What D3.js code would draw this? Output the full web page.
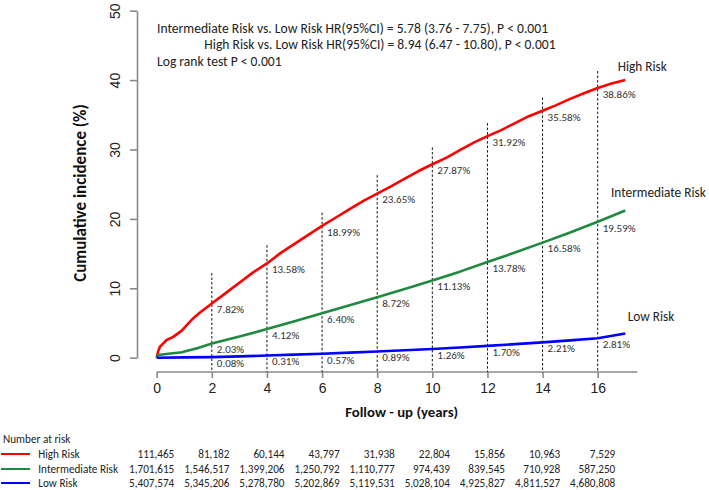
<!DOCTYPE html>
<html><head><meta charset="utf-8">
<script src="https://cdn.jsdelivr.net/npm/d3@7"></script>
<style>
body{margin:0;background:#fff;}
svg{display:block;}
.cal{font-family:Carlito,Lato,"Open Sans",sans-serif;}
</style></head><body>
<svg id="c" width="709" height="490"></svg>
<script>
// ---- data ----
const seriesNames = ["High Risk", "Intermediate Risk", "Low Risk"];
const seriesColors = ["#ff0000", "#1f8a3f", "#0000ff"];
const highX = [0, 0.05, 0.12, 0.24, 0.36, 0.6, 0.91, 1.09, 1.33, 1.57, 2, 2.5, 3, 3.5, 4, 4.5, 5, 5.5, 6, 6.5, 7, 7.5, 8, 8.5, 9, 9.5, 10, 10.5, 11, 11.5, 12, 12.5, 13, 13.5, 14, 14.5, 15, 15.5, 16, 16.5, 17];
const highY = [0, 0.9, 1.6, 2.07, 2.55, 3.0, 3.9, 4.7, 5.7, 6.5, 7.82, 9.3, 10.8, 12.3, 13.58, 15.1, 16.4, 17.7, 18.99, 20.2, 21.4, 22.6, 23.65, 24.7, 25.8, 26.9, 27.87, 28.8, 29.9, 31.0, 31.92, 32.8, 33.8, 34.8, 35.58, 36.4, 37.3, 38.1, 38.86, 39.5, 40.0];
const interX = [0, 0.05, 0.5, 0.91, 1.5, 2, 3, 4, 5, 6, 7, 8, 9, 10, 11, 12, 13, 14, 15, 16, 17];
const interY = [0, 0.4, 0.6, 0.78, 1.4, 2.03, 3.05, 4.12, 5.25, 6.40, 7.55, 8.72, 9.9, 11.13, 12.4, 13.78, 15.15, 16.58, 18.05, 19.59, 21.2];
const lowX = [0, 1, 2, 3, 4, 5, 6, 7, 8, 9, 10, 11, 12, 13, 14, 15, 16, 17];
const lowY = [0, 0.04, 0.08, 0.19, 0.31, 0.44, 0.57, 0.73, 0.89, 1.07, 1.26, 1.47, 1.70, 1.95, 2.21, 2.5, 2.81, 3.5];
const markYears = [2, 4, 6, 8, 10, 12, 14, 16];
const markTops = [12.2, 16.2, 20.9, 26.3, 30.3, 33.8, 37.5, 41.3];
const highPct = ["7.82%", "13.58%", "18.99%", "23.65%", "27.87%", "31.92%", "35.58%", "38.86%"];
const interPct = ["2.03%", "4.12%", "6.40%", "8.72%", "11.13%", "13.78%", "16.58%", "19.59%"];
const lowPct = ["0.08%", "0.31%", "0.57%", "0.89%", "1.26%", "1.70%", "2.21%", "2.81%"];
const xTicks = [0, 2, 4, 6, 8, 10, 12, 14, 16];
const yTicks = [0, 10, 20, 30, 40, 50];
const riskYears = [0, 2, 4, 6, 8, 10, 12, 14, 16];
const riskHigh = ["111,465", "81,182", "60,144", "43,797", "31,938", "22,804", "15,856", "10,963", "7,529"];
const riskInter = ["1,701,615", "1,546,517", "1,399,206", "1,250,792", "1,110,777", "974,439", "839,545", "710,928", "587,250"];
const riskLow = ["5,407,574", "5,345,206", "5,278,780", "5,202,869", "5,119,531", "5,028,104", "4,925,827", "4,811,527", "4,680,808"];
const annot = [
  "Intermediate Risk vs. Low Risk HR(95%CI) = 5.78 (3.76 - 7.75), P < 0.001",
  "High Risk vs. Low Risk HR(95%CI) = 8.94 (6.47 - 10.80), P < 0.001",
  "Log rank test P < 0.001"
];

// ---- chart ----
const svg = d3.select("#c");
const x = d3.scaleLinear().domain([0, 16]).range([156.7, 597.7]);
const y = d3.scaleLinear().domain([0, 50]).range([357.7, 10.7]);
const axisCol = "#8a8a8a";

// y axis
const ya = svg.append("g").attr("transform", "translate(137,0)")
  .call(d3.axisLeft(y).tickValues(yTicks).tickSize(7).tickSizeOuter(0));
ya.select(".domain").attr("stroke", axisCol).attr("stroke-width", 1.6);
ya.selectAll(".tick line").attr("stroke", axisCol).attr("stroke-width", 1.6);
ya.selectAll(".tick text").attr("font-family", "Liberation Sans, Arial, sans-serif")
  .attr("font-size", 14).attr("fill", "#222").attr("text-anchor", "middle")
  .attr("transform", "translate(-22,0) rotate(-90)").attr("x", 0).attr("y", 0).attr("dy", "0.36em");

// x axis
const xa = svg.append("g").attr("transform", "translate(0,372)")
  .call(d3.axisBottom(x).tickValues(xTicks).tickSize(6).tickSizeOuter(0));
xa.select(".domain").attr("stroke", axisCol).attr("stroke-width", 1.6)
  .attr("d", `M${x(0)},0H${x(17.44)}`);
xa.selectAll(".tick line").attr("stroke", axisCol).attr("stroke-width", 1.6);
xa.selectAll(".tick text").attr("font-family", "Liberation Sans, Arial, sans-serif")
  .attr("font-size", 14).attr("fill", "#222").attr("y", 11).attr("dy", "0.71em");

// dashed marks
svg.append("g").selectAll("line").data(markYears).join("line")
  .attr("x1", d => x(d)).attr("x2", d => x(d))
  .attr("y1", (d, i) => y(markTops[i])).attr("y2", 372)
  .attr("stroke", "#111").attr("stroke-width", 1).attr("stroke-dasharray", "2.5,2");

// curves
const line = d3.line().x(d => x(d[0])).y(d => y(d[1]));
const curves = [d3.zip(highX, highY), d3.zip(interX, interY), d3.zip(lowX, lowY)];
svg.append("g").selectAll("path").data(curves).join("path")
  .attr("d", line).attr("fill", "none")
  .attr("stroke", (d, i) => seriesColors[i]).attr("stroke-width", 2.6)
  .attr("stroke-linejoin", "round");

// percent labels
const pctVals = [highPct, interPct, lowPct];
pctVals.forEach((arr, s) => {
  svg.append("g").attr("class", "cal").selectAll("text").data(arr).join("text")
    .attr("x", (d, i) => x(markYears[i]) + 5)
    .attr("y", d => y(parseFloat(d)) + 6)
    .attr("dy", "0.35em")
    .attr("font-size", 11).attr("fill", "#333").text(d => d);
});

// series labels
const nameEnd = [40, 21.2, 3.5];
const nameDy = [-14, -18, -17];
svg.append("g").attr("class", "cal").selectAll("text").data(seriesNames).join("text")
  .attr("x", (d, i) => [617.7, 611, 627.7][i])
  .attr("y", (d, i) => y(nameEnd[i]) + nameDy[i])
  .attr("dy", "0.35em").attr("font-size", 13.3).attr("fill", "#222").text(d => d);

// annotation
svg.append("g").attr("class", "cal").selectAll("text").data(annot).join("text")
  .attr("x", (d, i) => [157, 204.3, 157][i])
  .attr("y", (d, i) => 28 + i * 16.7).attr("dy", "0.35em")
  .attr("font-size", 13.6).attr("fill", "#222").text(d => d);

// axis titles
svg.append("text").attr("class", "cal").attr("transform", "translate(80,193) rotate(-90)")
  .attr("text-anchor", "middle").attr("dy", "0.35em").attr("font-weight", "bold")
  .attr("font-size", 17).attr("fill", "#111").text("Cumulative incidence (%)");
svg.append("text").attr("class", "cal").attr("x", 401.7).attr("y", 411.7)
  .attr("text-anchor", "middle").attr("dy", "0.35em").attr("font-weight", "bold")
  .attr("font-size", 14.8).attr("fill", "#111").text("Follow - up (years)");

// number at risk table
const tbl = svg.append("g").attr("class", "cal").attr("font-size", 11.2).attr("fill", "#222");
tbl.append("text").attr("x", 3).attr("y", 439.3).attr("dy", "0.35em").text("Number at risk");
const rowsY = [454, 469, 483];
const riskRows = [riskHigh, riskInter, riskLow];
seriesNames.forEach((n, s) => {
  tbl.append("line").attr("x1", 1).attr("x2", 30).attr("y1", rowsY[s]).attr("y2", rowsY[s])
    .attr("stroke", seriesColors[s]).attr("stroke-width", 2);
  tbl.append("text").attr("x", 38.3).attr("y", rowsY[s]).attr("dy", "0.35em").text(n);
  tbl.append("g").selectAll("text").data(riskRows[s]).join("text")
    .attr("x", (d, i) => x(riskYears[i]) + 17.6).attr("y", rowsY[s]).attr("dy", "0.35em")
    .attr("text-anchor", "end").text(d => d);
});
</script>
</body></html>
